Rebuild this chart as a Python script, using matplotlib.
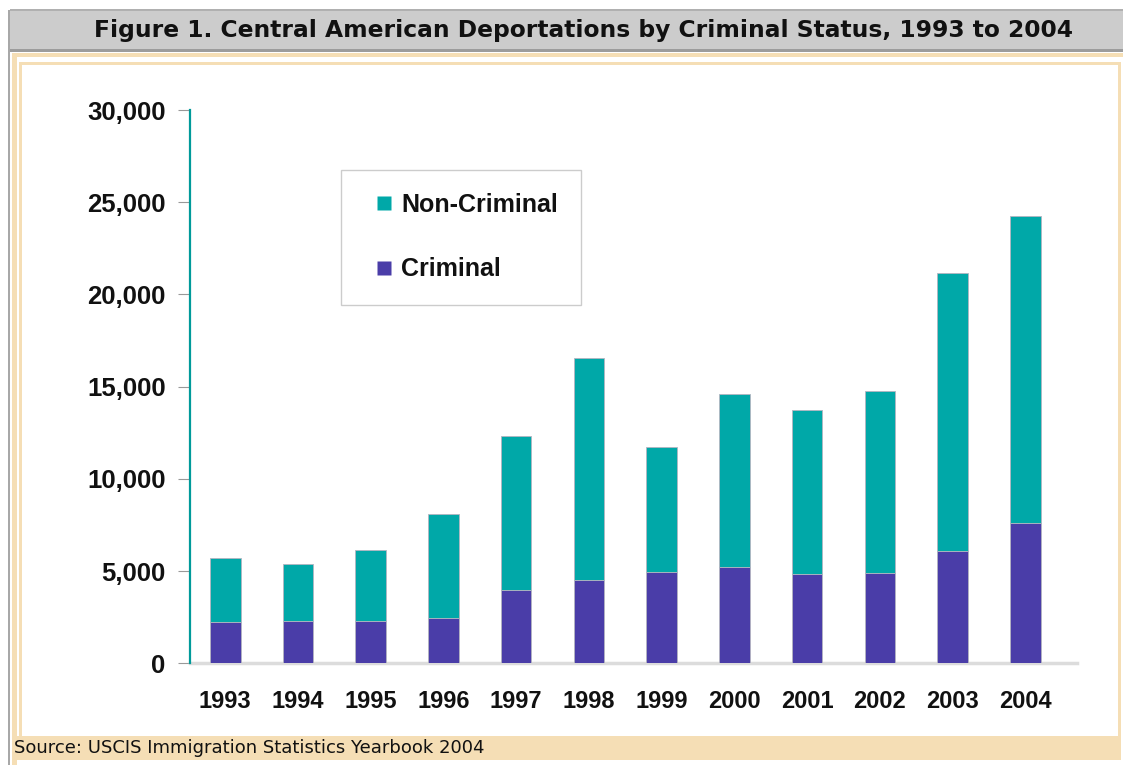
import matplotlib.pyplot as plt
from matplotlib import font_manager
from matplotlib.lines import Line2D
from matplotlib.patches import Rectangle
from matplotlib.ticker import FuncFormatter

years = ['1993', '1994', '1995', '1996', '1997', '1998',
         '1999', '2000', '2001', '2002', '2003', '2004']
criminal = [2220, 2290, 2290, 2450, 3950, 4500, 4960, 5200, 4820, 4910, 6070, 7620]
total = [5720, 5380, 6150, 8070, 12310, 16560, 11720, 14590, 13760, 14750, 21180, 24250]
non_criminal = [t - c for t, c in zip(total, criminal)]

TEAL = '#00a8a8'
PURPLE = '#4a3da8'
TAN = '#f5deb5'
W, H = 1123, 765

# Arial-like bold face for the chart labels
bold_path = None
for f in font_manager.findSystemFonts():
    if f.endswith('LiberationSans-Bold.ttf'):
        bold_path = f
        break


def arial_bold(size):
    if bold_path:
        return font_manager.FontProperties(fname=bold_path, size=size)
    return font_manager.FontProperties(family='DejaVu Sans', weight='bold', size=size)


fig = plt.figure(figsize=(W / 100, H / 100), dpi=100)


def box(x0, y0, x1, y1, **kw):
    # pixel box measured from the top-left corner of the figure
    r = Rectangle((x0 / W, 1 - y1 / H), (x1 - x0) / W, (y1 - y0) / H,
                  transform=fig.transFigure, **kw)
    fig.add_artist(r)
    return r


# page frame: grey title bar, tan borders, source strip
box(8, 10, 10, 765, facecolor='#a8a8a8', lw=0)
box(10, 9, 1123, 50, facecolor='#cccccc', lw=0)
box(10, 9, 1123, 11, facecolor='#b0b0b0', lw=0)
box(10, 49, 1123, 52, facecolor='#9c9c9c', lw=0)
box(12, 53, 1123, 57, facecolor=TAN, lw=0)
box(12, 53, 17, 765, facecolor=TAN, lw=0)
box(19, 62, 1121, 65, facecolor=TAN, lw=0)
box(19, 62, 22, 736, facecolor=TAN, lw=0)
box(1118, 62, 1121, 736, facecolor=TAN, lw=0)
box(12, 736, 1121, 760, facecolor=TAN, lw=0)

fig.text(583 / W, 1 - 31 / H,
         'Figure 1. Central American Deportations by Criminal Status, 1993 to 2004',
         ha='center', va='center', fontsize=16.8, fontweight='bold',
         family='DejaVu Sans', color='#111111')
fig.text(14 / W, 1 - 748 / H, 'Source: USCIS Immigration Statistics Yearbook 2004',
         ha='left', va='center', fontsize=13, family='DejaVu Sans', color='#111111')

ax = fig.add_axes([190 / W, 1 - 663.3 / H, (1077 - 190) / W, (663.3 - 110) / H])
x = range(len(years))
ax.bar(x, criminal, width=0.42, color=PURPLE, edgecolor='#b4b4c0', lw=0.6, zorder=3)
ax.bar(x, non_criminal, width=0.42, bottom=criminal, color=TEAL,
       edgecolor='#b4b4c0', lw=0.6, zorder=3)

ax.set_xlim(-0.485, 11.71)
ax.set_ylim(0, 30000)
ax.set_yticks(range(0, 30001, 5000))
ax.yaxis.set_major_formatter(FuncFormatter(lambda v, p: f'{int(v):,}'))
ax.set_xticks(list(x))
ax.set_xticklabels(years)

for s in ['top', 'right']:
    ax.spines[s].set_visible(False)
ax.spines['left'].set_color('#009a9a')
ax.spines['left'].set_linewidth(1.6)
ax.spines['bottom'].set_color('#dcdcdc')
ax.spines['bottom'].set_linewidth(2.5)
ax.spines['bottom'].set_zorder(2)

ax.tick_params(axis='y', length=8.5, width=0.8, color='#999999', pad=9)
ax.tick_params(axis='x', length=0, pad=19)
for lbl in ax.get_yticklabels():
    lbl.set_fontproperties(arial_bold(18.5))
    lbl.set_color('#111111')
for lbl in ax.get_xticklabels():
    lbl.set_fontproperties(arial_bold(17))
    lbl.set_color('#111111')

# legend with small square keys
keys = [Line2D([], [], ls='none', marker='s', markersize=9.5, color=TEAL, mec='none'),
        Line2D([], [], ls='none', marker='s', markersize=9.5, color=PURPLE, mec='none')]
leg = ax.legend(keys, ['Non-Criminal', 'Criminal'], loc='upper left',
                bbox_to_anchor=(341 / W, 1 - 170 / H), bbox_transform=fig.transFigure,
                prop=arial_bold(18),
                fancybox=False, edgecolor='#cccccc', framealpha=1,
                handlelength=1.6, handletextpad=-0.1,
                labelspacing=1.62, borderpad=0.92, borderaxespad=0)
leg.get_frame().set_linewidth(1.0)
for t in leg.get_texts():
    t.set_color('#111111')

fig.savefig('out.png', dpi=100)
